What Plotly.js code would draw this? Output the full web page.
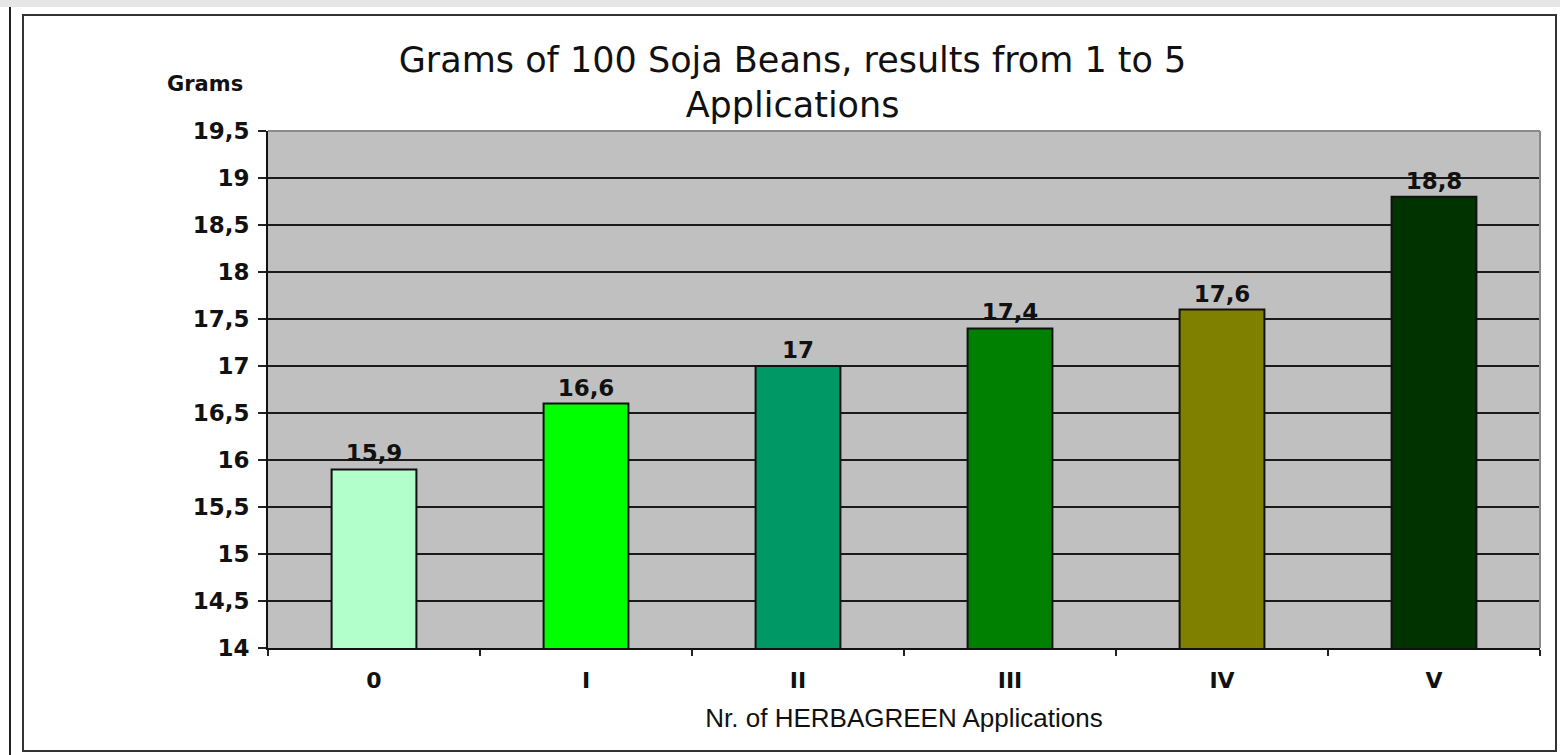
<!DOCTYPE html>
<html>
<head>
<meta charset="utf-8">
<script src="https://cdn.plot.ly/plotly-3.0.1.min.js"></script>
<style>
  html, body { margin: 0; padding: 0; width: 1560px; height: 755px; overflow: hidden; background: #ffffff; }
  #topstrip { position: absolute; left: 0; top: 0; width: 1560px; height: 7px; background: #e6e6e6; }
  #vline { position: absolute; left: 9px; top: 7px; width: 2px; height: 748px; background: #222; }
  #chart { position: absolute; left: 22px; top: 14px; width: 1531px; height: 734px; border: 2px solid #333; background: #fff; }
</style>
</head>
<body>
<div id="topstrip"></div>
<div id="vline"></div>
<div id="chart"></div>
<script>
const categories = ["0", "I", "II", "III", "IV", "V"];
const grams = [15.9, 16.6, 17.0, 17.4, 17.6, 18.8];
const valueLabels = ["15,9", "16,6", "17", "17,4", "17,6", "18,8"];
const barColors = ["#b3ffcc", "#00ff00", "#009966", "#008000", "#808000", "#003300"];
const yTickVals = [14, 14.5, 15, 15.5, 16, 16.5, 17, 17.5, 18, 18.5, 19, 19.5];
const yTickText = ["14", "14,5", "15", "15,5", "16", "16,5", "17", "17,5", "18", "18,5", "19", "19,5"];

const trace = {
  type: "bar",
  x: categories,
  y: grams,
  text: valueLabels,
  textposition: "outside",
  cliponaxis: false,
  textfont: { family: "DejaVu Sans", size: 23, color: "#111", weight: "bold" },
  marker: { color: barColors, line: { color: "#111", width: 2 } },
  hoverinfo: "x+y"
};

const layout = {
  width: 1531,
  height: 734,
  margin: { l: 244, r: 15, t: 115, b: 102 },
  paper_bgcolor: "#ffffff",
  plot_bgcolor: "#c0c0c0",
  bargap: 0.6,
  showlegend: false,
  title: {
    text: "Grams of 100 Soja Beans, results from 1 to 5<br>Applications",
    font: { family: "DejaVu Sans", size: 35, color: "#111" },
    xref: "container", yref: "container",
    x: 0.502, xanchor: "center",
    y: 0.924, yanchor: "middle"
  },
  xaxis: {
    type: "category",
    tickson: "boundaries",
    ticks: "outside",
    ticklen: 6,
    tickwidth: 2,
    tickcolor: "#222",
    ticklabelstandoff: 12,
    showline: true,
    linecolor: "#111",
    linewidth: 2,
    showgrid: false,
    tickfont: { family: "DejaVu Sans", size: 22, color: "#111", weight: "bold" },
    title: {
      text: "Nr. of HERBAGREEN Applications",
      font: { family: "Liberation Sans", size: 26, color: "#111" },
      standoff: 16
    }
  },
  yaxis: {
    range: [14, 19.5],
    tickvals: yTickVals,
    ticktext: yTickText,
    ticks: "outside",
    ticklen: 8,
    tickwidth: 2,
    tickcolor: "#222",
    ticklabelstandoff: 4,
    showline: true,
    linecolor: "#111",
    linewidth: 2,
    showgrid: true,
    gridcolor: "#1a1a1a",
    gridwidth: 2,
    zeroline: false,
    tickfont: { family: "DejaVu Sans", size: 23, color: "#111", weight: "bold" }
  },
  shapes: [
    { type: "line", xref: "paper", yref: "paper", x0: 0, x1: 1, y0: 1, y1: 1, line: { color: "#8a8a8a", width: 2 } },
    { type: "line", xref: "paper", yref: "paper", x0: 1, x1: 1, y0: 0, y1: 1, line: { color: "#8a8a8a", width: 2 } }
  ],
  annotations: [
    {
      text: "Grams",
      xref: "paper", yref: "paper",
      x: -0.018, y: 1.09,
      xanchor: "right", yanchor: "middle",
      showarrow: false,
      font: { family: "DejaVu Sans", size: 21, color: "#111", weight: "bold" }
    }
  ]
};

Plotly.newPlot("chart", [trace], layout, { displayModeBar: false, responsive: false });
</script>
</body>
</html>
